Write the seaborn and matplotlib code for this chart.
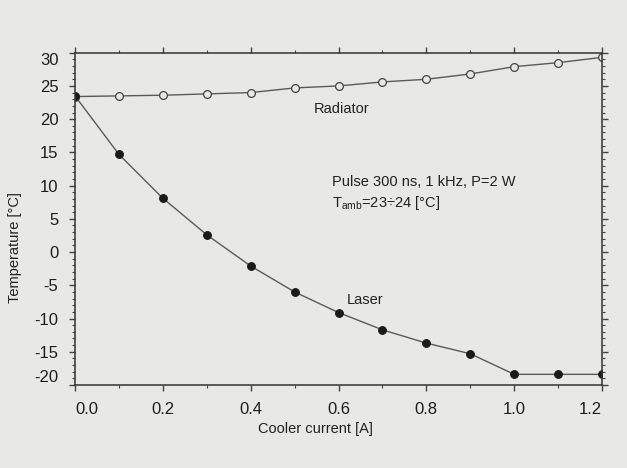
import matplotlib
matplotlib.use("Agg")
import matplotlib.pyplot as plt
from matplotlib.ticker import MultipleLocator, FixedLocator
import seaborn as sns
import pandas as pd

current = [0.0, 0.1, 0.2, 0.3, 0.4, 0.5, 0.6, 0.7, 0.8, 0.9, 1.0, 1.1, 1.2]
radiator = [23.4, 23.5, 23.6, 23.8, 24.0, 24.7, 25.0, 25.6, 26.0, 26.8, 27.9, 28.5, 29.3]
laser = [23.5, 14.7, 8.1, 2.6, -2.1, -6.0, -9.1, -11.7, -13.7, -15.3, -18.4, -18.4, -18.4]
x_ticks = [0.0, 0.2, 0.4, 0.6, 0.8, 1.0, 1.2]
y_ticks = [-20, -15, -10, -5, 0, 5, 10, 15, 20, 25, 30]

df = pd.DataFrame({"current": current, "radiator": radiator, "laser": laser})

sns.set_theme(style="ticks")
plt.rcParams["font.family"] = ["Liberation Sans", "DejaVu Sans"]

bg = "#e8e8e6"
fig = plt.figure(figsize=(6.27, 4.68), dpi=100, facecolor=bg)
ax = fig.add_axes([0.1196, 0.1774, 0.8406, 0.7100])
ax.set_facecolor(bg)

sns.lineplot(data=df, x="current", y="radiator", ax=ax, color="#5a5a5a", lw=1.0,
             marker="o", markersize=5.6, markerfacecolor=bg, markeredgecolor="#444444",
             markeredgewidth=0.9)
sns.lineplot(data=df, x="current", y="laser", ax=ax, color="#5a5a5a", lw=1.0,
             marker="o", markersize=5.6, markerfacecolor="#1a1a1a", markeredgecolor="#1a1a1a")

ax.set_xlim(0, 1.2)
ax.set_ylim(-20, 30)
ax.xaxis.set_major_locator(FixedLocator(x_ticks))
ax.xaxis.set_minor_locator(MultipleLocator(0.1))
ax.yaxis.set_major_locator(FixedLocator(y_ticks))
ax.yaxis.set_minor_locator(MultipleLocator(1))
ax.set_xticklabels([f"{v:.1f}" for v in x_ticks])
ax.set_yticklabels([str(v) for v in y_ticks])

for s in ax.spines.values():
    s.set_color("#333333")
    s.set_linewidth(1.1)

ax.tick_params(which="both", top=True, right=True, direction="out", color="#444444",
               labelsize=12, labelcolor="#1e1e1e")
ax.tick_params(which="major", length=4, width=1.0, pad=8)
ax.tick_params(which="minor", length=2.5, width=0.8)

xl = ax.get_xticklabels()
xl[0].set_ha("left")
xl[-1].set_ha("right")
yl = ax.get_yticklabels()
yl[-1].set_va("top")
yl[0].set_va("bottom")

ax.set_xlabel("Cooler current [A]", fontsize=10.5, color="#222222")
ax.set_ylabel("Temperature [°C]", fontsize=10.5, color="#222222")
ax.xaxis.set_label_coords(0.457, -0.11)
ax.yaxis.set_label_coords(-0.10, 0.415)

ax.text(0.543, 21.6, "Radiator", fontsize=10.5, color="#222222", va="center", ha="left")
ax.text(0.586, 10.5, "Pulse 300 ns, 1 kHz, P=2 W", fontsize=10.5, color="#222222",
        va="center", ha="left")
ax.text(0.586, 7.4, r"T$_{\mathregular{amb}}$=23÷24 [°C]", fontsize=10.5, color="#222222",
        va="center", ha="left")
ax.text(0.618, -7.2, "Laser", fontsize=10.5, color="#222222", va="center", ha="left")

fig.savefig("out.png", dpi=100, facecolor=bg)
